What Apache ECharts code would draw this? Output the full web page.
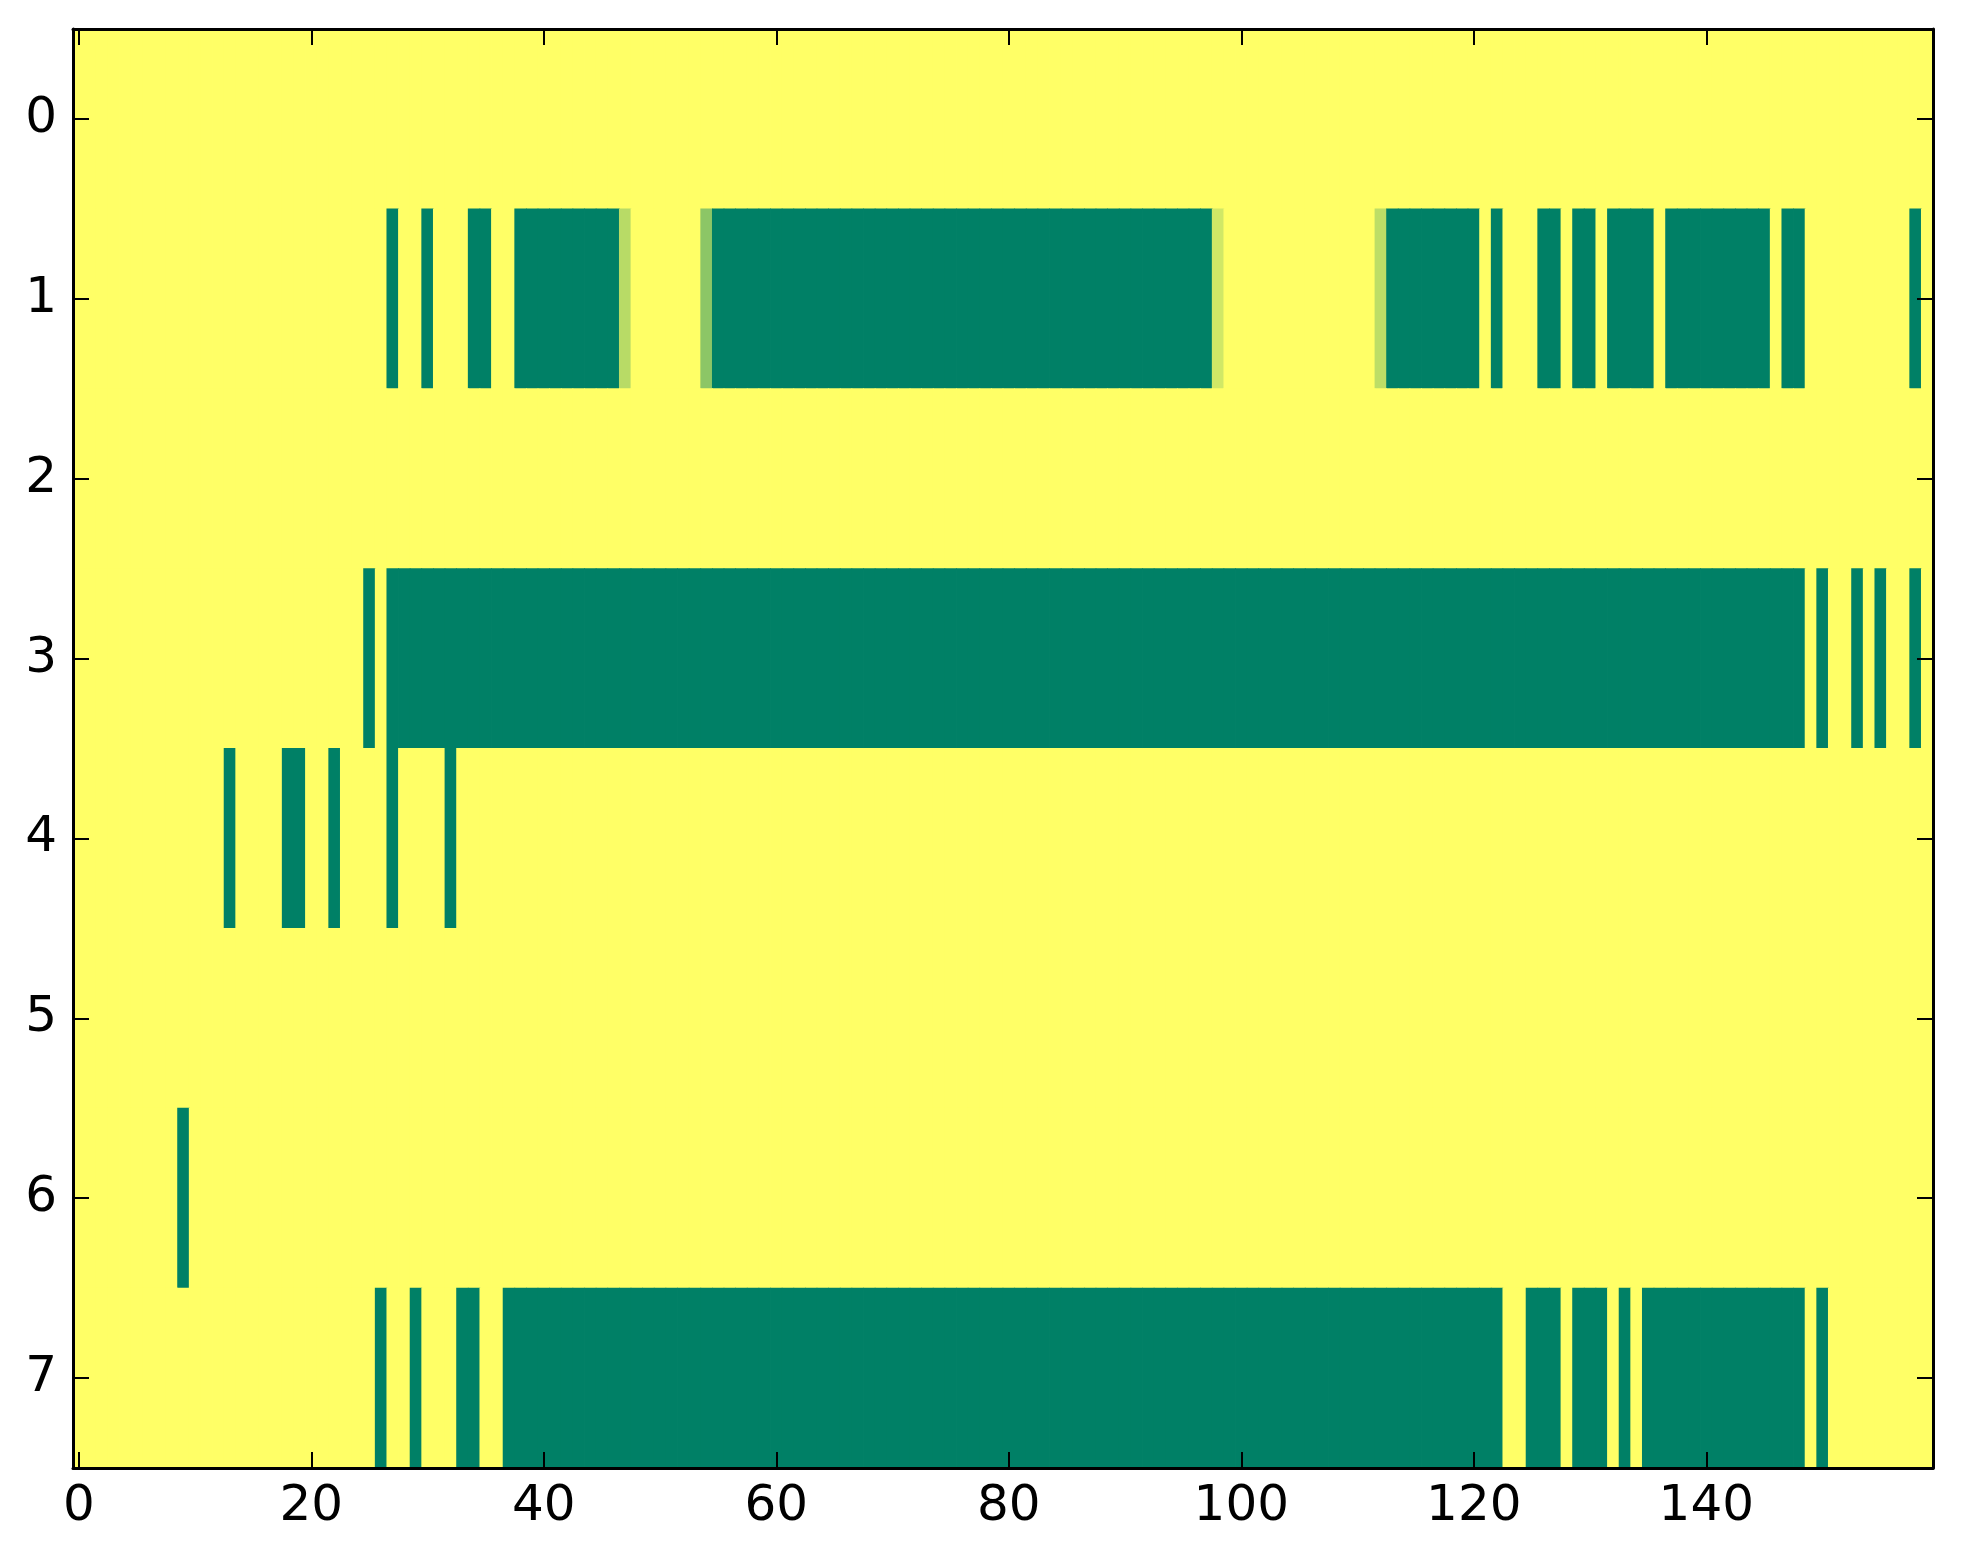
<!DOCTYPE html>
<html>
<head>
<meta charset="utf-8">
<script src="https://cdn.jsdelivr.net/npm/echarts@6/dist/echarts.min.js"></script>
<style>
html,body{margin:0;padding:0;background:#fff;}
#chart{width:1963px;height:1564px;}
</style>
</head>
<body>
<div id="chart"></div>
<script>
// Column categories 0..159 and row categories 0..7
const columnCount = 160;
const rowLabels = ['0','1','2','3','4','5','6','7'];
const xTickLabels = ['0','20','40','60','80','100','120','140'];

// Non-zero cells per row as runs [firstColumn, lastColumn, value]; all other cells are 0
const row0Runs = [];
const row1Runs = [[27,27,1],[30,30,1],[34,35,1],[38,46,1],[47,47,0.28],[54,54,0.45],[55,97,1],[98,98,0.18],
                  [112,112,0.26],[113,120,1],[122,122,1],[126,127,1],[129,130,1],[132,135,1],[137,145,1],[147,148,1],[158,158,1]];
const row2Runs = [];
const row3Runs = [[25,25,1],[27,148,1],[150,150,1],[153,153,1],[155,155,1],[158,158,1]];
const row4Runs = [[13,13,1],[18,19,1],[22,22,1],[27,27,1],[32,32,1]];
const row5Runs = [];
const row6Runs = [[9,9,1]];
const row7Runs = [[26,26,1],[29,29,1],[33,34,1],[37,122,1],[125,127,1],[129,131,1],[133,133,1],[135,148,1],[150,150,1]];

const allRuns = [row0Runs,row1Runs,row2Runs,row3Runs,row4Runs,row5Runs,row6Runs,row7Runs];

const xCats = [];
for (let c = 0; c < columnCount; c++) xCats.push(String(c));

const cells = [];
allRuns.forEach(function (runs, r) {
  const vals = new Array(columnCount).fill(0);
  runs.forEach(function (run) { for (let c = run[0]; c <= run[1]; c++) vals[c] = run[2]; });
  vals.forEach(function (v, c) { cells.push([c, r, v]); });
});

const FONT = 'DejaVu Sans';
const showX = function (idx) { return xTickLabels.indexOf(String(idx)) >= 0; };
const lineStyle = { color: '#000', width: 3 };
const tickStyle = { color: '#000', width: 2 };

const chart = echarts.init(document.getElementById('chart'), null, { renderer: 'canvas' });
chart.setOption({
  animation: false,
  backgroundColor: '#ffffff',
  grid: { left: 73, top: 29, width: 1860, height: 1439, containLabel: false },
  visualMap: {
    show: false, type: 'continuous', min: 0, max: 1, dimension: 2, seriesIndex: 0,
    inRange: { color: ['#ffff66', '#008066'] }
  },
  xAxis: [
    {
      type: 'category', data: xCats, position: 'bottom', z: 10,
      axisLine: { show: true, lineStyle: lineStyle },
      axisTick: { show: true, inside: true, length: 16, alignWithLabel: true, interval: function (i) { return showX(i); }, lineStyle: tickStyle },
      axisLabel: { show: true, interval: function (i) { return showX(i); }, margin: 14, color: '#000', fontSize: 50, fontFamily: FONT },
      splitLine: { show: false }
    },
    {
      type: 'category', data: xCats, position: 'top', z: 10,
      axisLine: { show: true, lineStyle: lineStyle },
      axisTick: { show: true, inside: true, length: 16, alignWithLabel: true, interval: function (i) { return showX(i); }, lineStyle: tickStyle },
      axisLabel: { show: false },
      splitLine: { show: false }
    }
  ],
  yAxis: [
    {
      type: 'category', data: rowLabels, inverse: true, position: 'left', z: 10,
      axisLine: { show: true, lineStyle: lineStyle },
      axisTick: { show: true, inside: true, length: 16, alignWithLabel: true, interval: 0, lineStyle: tickStyle },
      axisLabel: { show: true, interval: 0, margin: 16, color: '#000', fontSize: 50, fontFamily: FONT },
      splitLine: { show: false }
    },
    {
      type: 'category', data: rowLabels, inverse: true, position: 'right', z: 10,
      axisLine: { show: true, lineStyle: lineStyle },
      axisTick: { show: true, inside: true, length: 16, alignWithLabel: true, interval: 0, lineStyle: tickStyle },
      axisLabel: { show: false },
      splitLine: { show: false }
    }
  ],
  series: [{
    type: 'custom', xAxisIndex: 0, yAxisIndex: 0, data: cells,
    encode: { x: 0, y: 1 },
    renderItem: function (params, api) {
      const p = api.coord([api.value(0), api.value(1)]);
      const s = api.size([1, 1]);
      const col = api.visual('color');
      return {
        type: 'rect',
        shape: { x: p[0] - s[0] / 2 - 0.4, y: p[1] - s[1] / 2 - 0.4, width: s[0] + 0.8, height: s[1] + 0.8 },
        style: { fill: col, stroke: null, lineWidth: 0 }
      };
    },
    emphasis: { disabled: true },
    silent: true,
    progressive: 0
  }]
});
</script>
</body>
</html>
